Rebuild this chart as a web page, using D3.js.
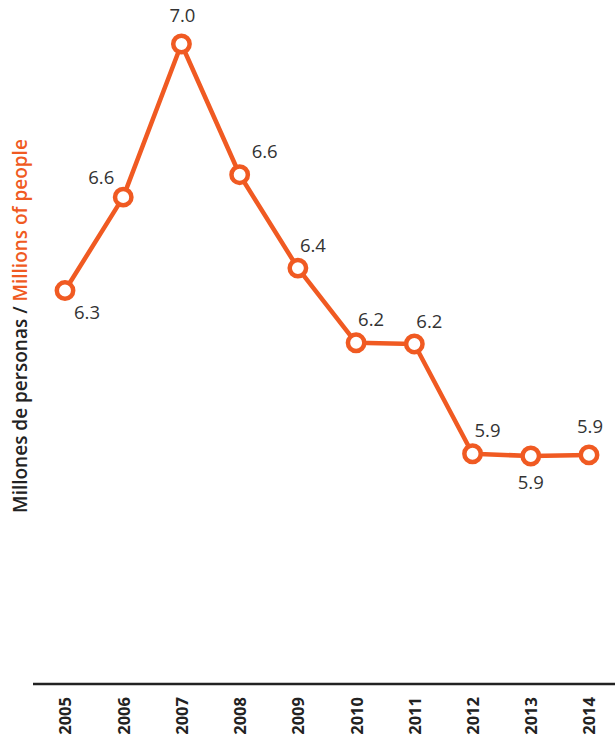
<!DOCTYPE html>
<html>
<head>
<meta charset="utf-8">
<script src="https://cdn.jsdelivr.net/npm/d3@7"></script>
<style>
  body { margin: 0; background: #fff; }
  text { font-family: "Open Sans", sans-serif; }
</style>
</head>
<body>
<div id="chart"></div>
<script>
var years = ['2005', '2006', '2007', '2008', '2009', '2010', '2011', '2012', '2013', '2014'];
var values = [6.34, 6.59, 7.0, 6.65, 6.40, 6.20, 6.197, 5.903, 5.897, 5.90];
var labels = ['6.3', '6.6', '7.0', '6.6', '6.4', '6.2', '6.2', '5.9', '5.9', '5.9'];
// where each value label sits relative to its point
var labelSide = ['br', 'al', 'a', 'rr', 'ar', 'ar', 'ar', 'ar', 'b', 'a'];

var width = 615, height = 745;
var orange = '#f05a22';

var svg = d3.select('#chart')
    .append('svg')
    .attr('width', width)
    .attr('height', height);

var x = d3.scalePoint()
    .domain(years)
    .range([65, 589]);

var y = d3.scaleLinear()
    .domain([5.3, 7.0])
    .range([679, 44]);

// x axis
var xAxis = d3.axisBottom(x).tickSize(0).tickPadding(0);
var gx = svg.append('g')
    .attr('transform', 'translate(0,684)')
    .call(xAxis);
gx.select('.domain').remove();
gx.append('line')
    .attr('x1', 33).attr('x2', width)
    .attr('y1', 0).attr('y2', 0)
    .attr('stroke', '#222')
    .attr('stroke-width', 2.5);
gx.selectAll('.tick text')
    .attr('transform', 'rotate(-90)')
    .attr('text-anchor', 'end')
    .attr('x', -13)
    .attr('y', 0)
    .attr('dy', '0.36em')
    .style('font-size', '16.5px')
    .style('font-weight', 700)
    .style('fill', '#222');

// y title
var title = svg.append('text')
    .attr('transform', 'translate(27,326) rotate(-90)')
    .attr('text-anchor', 'middle')
    .style('font-size', '19px')
    .style('font-weight', 600);
title.append('tspan').attr('fill', '#222').text('Millones de personas / ');
title.append('tspan').attr('fill', orange).text('Millions of people');

var pts = years.map(function(d, i) { return {year: d, value: values[i], label: labels[i], side: labelSide[i]}; });

var line = d3.line()
    .x(function(d) { return x(d.year); })
    .y(function(d) { return y(d.value); });

svg.append('path')
    .datum(pts)
    .attr('d', line)
    .attr('fill', 'none')
    .attr('stroke', orange)
    .attr('stroke-width', 4.5)
    .attr('stroke-linejoin', 'round');

svg.selectAll('.dot')
    .data(pts).enter()
    .append('circle')
    .attr('class', 'dot')
    .attr('cx', function(d) { return x(d.year); })
    .attr('cy', function(d) { return y(d.value); })
    .attr('r', 8.2)
    .attr('fill', '#fff')
    .attr('stroke', orange)
    .attr('stroke-width', 4.5);

var offsets = {
    br: [22, 22],
    al: [-22, -20],
    a:  [1, -29],
    rr: [25, -23],
    ar: [15, -23],
    b:  [0, 26]
};

svg.selectAll('.lbl')
    .data(pts).enter()
    .append('text')
    .attr('class', 'lbl')
    .attr('x', function(d) { return x(d.year) + offsets[d.side][0]; })
    .attr('y', function(d) { return y(d.value) + offsets[d.side][1]; })
    .attr('text-anchor', 'middle')
    .attr('dy', '0.36em')
    .style('font-size', '18.5px')
    .style('fill', '#333')
    .text(function(d) { return d.label; });
</script>
</body>
</html>
